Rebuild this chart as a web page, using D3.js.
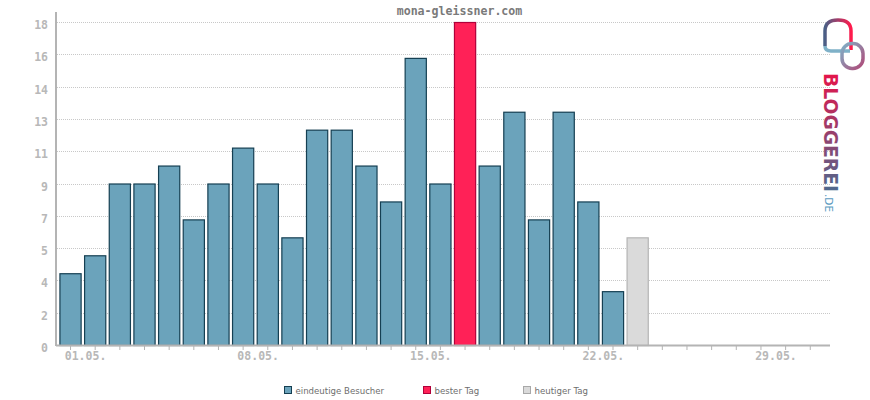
<!DOCTYPE html>
<meta charset="utf-8">
<script src="https://d3js.org/d3.v7.min.js"></script>
<style>
  body { margin: 0; background: #fff; }
  text { font-family: "DejaVu Sans Mono", monospace; }
</style>
<svg id="chart" width="870" height="400"></svg>
<script>
// visitors per day in May, last one is "today"
var days = d3.range(1, 32);
var visitors = [4, 5, 9, 9, 10, 7, 9, 11, 9, 6, 12, 12, 10, 8, 16, 9, 18, 10, 13, 7, 13, 8, 3, 6];
var bestDay = 17;
var today = 24;
var yTicks = [0, 1.8, 3.6, 5.4, 7.2, 9, 10.8, 12.6, 14.4, 16.2, 18];
var labelDays = [1, 8, 15, 22, 29];
var legendItems = ["eindeutige Besucher", "bester Tag", "heutiger Tag"];

var svg = d3.select("#chart");

var x = d3.scaleBand()
  .domain(days)
  .range([58.2, 822.6])
  .paddingInner(0.1)
  .paddingOuter(0.05);

var y = d3.scaleLinear()
  .domain([0, 18])
  .range([345, 22]);

// grid lines
svg.append("g")
  .selectAll("line")
  .data(yTicks.slice(1))
  .enter().append("line")
    .attr("x1", 57).attr("x2", 830)
    .attr("y1", function(d) { return Math.round(y(d)) + 0.5; })
    .attr("y2", function(d) { return Math.round(y(d)) + 0.5; })
    .attr("stroke", "#c8c8c8")
    .attr("stroke-dasharray", "1,1");

// y labels
svg.append("g")
  .selectAll("text")
  .data(yTicks)
  .enter().append("text")
    .attr("x", 48)
    .attr("y", function(d) { return y(d) + 7; })
    .attr("text-anchor", "end")
    .style("font-size", "11.5px")
    .style("font-weight", "bold")
    .style("fill", "#b8b8b8")
    .text(function(d) { return Math.round(d); });

// bars
var data = visitors.map(function(v, i) { return {day: i + 1, value: v}; });
svg.append("g")
  .selectAll("rect")
  .data(data)
  .enter().append("rect")
    .attr("x", function(d) { return x(d.day) + 0.5; })
    .attr("y", function(d) { return y(d.value) + 0.5; })
    .attr("width", x.bandwidth() - 1)
    .attr("height", function(d) { return y(0) - y(d.value); })
    .attr("fill", function(d) {
      if (d.day == bestDay) return "#ff2157";
      if (d.day == today) return "#dadada";
      return "#6ba3bb";
    })
    .attr("stroke", function(d) {
      if (d.day == bestDay) return "#b0003a";
      if (d.day == today) return "#b4b4b4";
      return "#153f52";
    })
    .attr("stroke-width", 1.2);

// x axis ticks + labels
var xAxis = svg.append("g")
  .attr("transform", "translate(0,346)")
  .call(d3.axisBottom(x)
    .tickSize(4)
    .tickSizeOuter(0)
    .tickFormat(function(d) {
      return labelDays.indexOf(d) >= 0 ? d3.format("02")(d) + ".05." : "";
    }));
xAxis.select(".domain").remove();
xAxis.selectAll(".tick line").attr("stroke", "#b4b4b4");
xAxis.selectAll(".tick text")
  .attr("dx", 15)
  .attr("y", 14)
  .attr("dy", 0)
  .style("font-family", "DejaVu Sans Mono, monospace")
  .style("font-size", "11.5px")
  .style("font-weight", "bold")
  .style("fill", "#b8b8b8");

// axis lines
svg.append("line")
  .attr("x1", 56).attr("x2", 830).attr("y1", 345.5).attr("y2", 345.5)
  .attr("stroke", "#b4b4b4").attr("stroke-width", 2);
svg.append("line")
  .attr("x1", 56).attr("x2", 56).attr("y1", 12).attr("y2", 346)
  .attr("stroke", "#b4b4b4").attr("stroke-width", 2);

// title
svg.append("text")
  .attr("x", 459.5)
  .attr("y", 15)
  .attr("text-anchor", "middle")
  .style("font-size", "11.6px")
  .style("font-weight", "bold")
  .style("fill", "#7a7a7a")
  .text("mona-gleissner.com");

// legend
var legendColors = [["#6ba3bb", "#153f52"], ["#ff2157", "#b0003a"], ["#dadada", "#a8a8a8"]];
var legendX = [284.5, 423.5, 523.5];
var lg = svg.append("g")
  .selectAll("g")
  .data(legendItems)
  .enter().append("g")
    .attr("transform", function(d, i) { return "translate(" + legendX[i] + ",386.5)"; });
lg.append("rect")
  .attr("width", 7).attr("height", 7)
  .attr("fill", function(d, i) { return legendColors[i][0]; })
  .attr("stroke", function(d, i) { return legendColors[i][1]; });
lg.append("text")
  .attr("x", 11)
  .attr("y", 7.5)
  .style("font-family", "DejaVu Sans, sans-serif")
  .style("font-size", "8.6px")
  .style("fill", "#6e6e6e")
  .text(function(d) { return d; });

// bloggerei logo
var defs = svg.append("defs");
var g1 = defs.append("linearGradient").attr("id", "arch").attr("x1", 0).attr("x2", 1).attr("y1", 0).attr("y2", 0);
g1.append("stop").attr("offset", "0").attr("stop-color", "#4a5f86");
g1.append("stop").attr("offset", "1").attr("stop-color", "#ff1a4c");
var g2 = defs.append("linearGradient").attr("id", "loop").attr("x1", 0).attr("x2", 1).attr("y1", 0).attr("y2", 1);
g2.append("stop").attr("offset", "0").attr("stop-color", "#7fb1c8");
g2.append("stop").attr("offset", "1").attr("stop-color", "#b04a78");
var g3 = defs.append("linearGradient").attr("id", "word").attr("x1", 0).attr("x2", 1).attr("y1", 0).attr("y2", 0);
g3.append("stop").attr("offset", "0").attr("stop-color", "#e5144a");
g3.append("stop").attr("offset", "1").attr("stop-color", "#4d6a8e");

svg.append("path")
  .attr("d", "M825,46 L825,31 Q825,20 838,20 Q851,20 851,31 L851,50")
  .attr("fill", "none").attr("stroke", "url(#arch)").attr("stroke-width", 3.5);
svg.append("path")
  .attr("d", "M825,46 Q825,51 831,51 L850,51")
  .attr("fill", "none").attr("stroke", "#7fb1c8").attr("stroke-width", 3.5);
svg.append("rect")
  .attr("x", 842).attr("y", 43.5).attr("width", 21).attr("height", 25).attr("rx", 10)
  .attr("fill", "none").attr("stroke", "url(#loop)").attr("stroke-width", 3.5);

svg.append("text")
  .attr("transform", "translate(824,73) rotate(90)")
  .attr("textLength", 119)
  .attr("lengthAdjust", "spacingAndGlyphs")
  .style("font-family", "DejaVu Sans, sans-serif")
  .style("font-size", "19px")
  .style("font-weight", "bold")
  .style("fill", "url(#word)")
  .text("BLOGGEREI");
svg.append("text")
  .attr("transform", "translate(825,194) rotate(90)")
  .attr("textLength", 18)
  .attr("lengthAdjust", "spacingAndGlyphs")
  .style("font-family", "DejaVu Sans, sans-serif")
  .style("font-size", "11px")
  .style("fill", "#5b9bbf")
  .text(".DE");
</script>
